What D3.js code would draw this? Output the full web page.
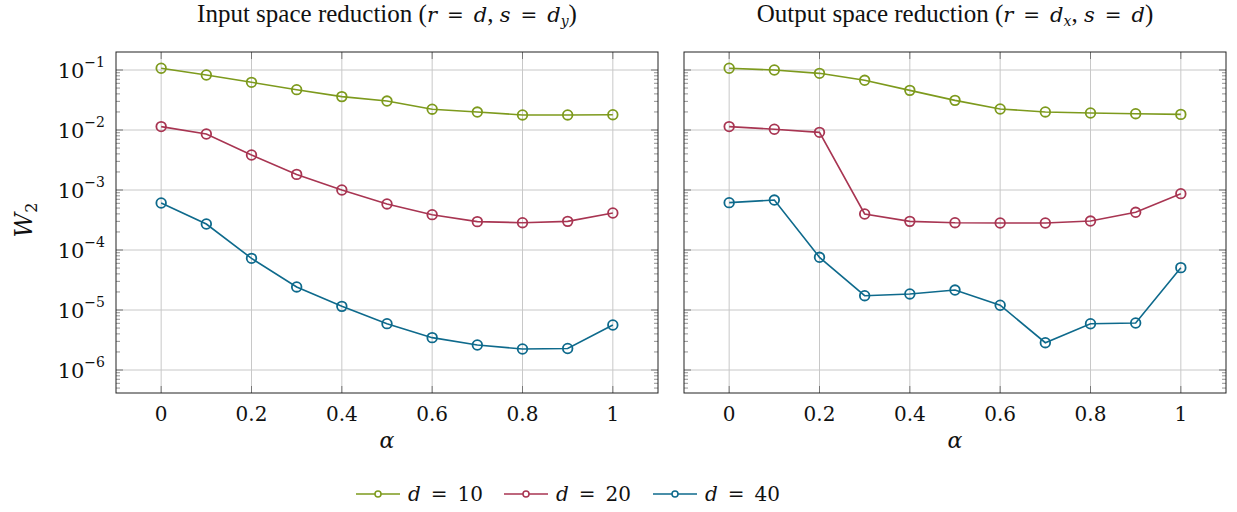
<!DOCTYPE html>
<html>
<head>
<meta charset="utf-8">
<script src="https://cdn.jsdelivr.net/npm/d3@7"></script>
<style>
  body { margin: 0; background: #fff; }
  text { fill: #111; }
</style>
</head>
<body>
<svg width="1237" height="512"></svg>
<script>
// alpha values shared by both panels
var alphas = [0, 0.1, 0.2, 0.3, 0.4, 0.5, 0.6, 0.7, 0.8, 0.9, 1];
var xTicks = [0, 0.2, 0.4, 0.6, 0.8, 1];
var yTickExps = [-1, -2, -3, -4, -5, -6];

// input space reduction
var inD10 = [0.107, 0.0826, 0.0623, 0.047, 0.036, 0.0304, 0.0222, 0.0199, 0.0178, 0.0178, 0.018];
var inD20 = [0.0114, 0.00858, 0.00383, 0.00182, 0.001, 0.000585, 0.000388, 0.000297, 0.000285, 0.0003, 0.000414];
var inD40 = [0.000607, 0.000271, 7.26e-5, 2.42e-5, 1.15e-5, 5.92e-6, 3.46e-6, 2.61e-6, 2.24e-6, 2.28e-6, 5.62e-6];

// output space reduction
var outD10 = [0.107, 0.1, 0.088, 0.0673, 0.0458, 0.0312, 0.0224, 0.02, 0.0192, 0.0187, 0.0182];
var outD20 = [0.0114, 0.0103, 0.00914, 0.000398, 0.0003, 0.000285, 0.000282, 0.000282, 0.000304, 0.000425, 0.000869];
var outD40 = [0.000615, 0.00068, 7.55e-5, 1.73e-5, 1.85e-5, 2.15e-5, 1.2e-5, 2.85e-6, 5.9e-6, 6.07e-6, 5.08e-5];

var seriesNames = ["10", "20", "40"];
var seriesColors = ["#7d9a1d", "#a83552", "#0e6a8c"];

var textFont = "'Liberation Serif', 'Times New Roman', serif";
var mathFont = "'DejaVu Serif', serif";

var svg = d3.select("svg");

var top_ = 52, bottom_ = 393, panelW = 542;
var panels = [
  { x0: 116, title: ["Input space reduction (", "r", " = ", "d", ", ", "s", " = ", "d", "y", ")"], data: [inD10, inD20, inD40], labels: true },
  { x0: 684, title: ["Output space reduction (", "r", " = ", "d", "x", ", ", "s", " = ", "d", ")"], data: [outD10, outD20, outD40], labels: false }
];

var y = d3.scaleLog()
    .domain([Math.pow(10, -6 - 23 / 60), Math.pow(10, -0.7)])
    .range([bottom_, top_]);

panels.forEach(function(p)
{
    var x = d3.scaleLinear().domain([-0.1, 1.1]).range([p.x0, p.x0 + panelW]);
    var g = svg.append("g");

    // grid
    g.selectAll("line.vg").data(xTicks).enter().append("line")
        .attr("x1", function(d) { return x(d); }).attr("x2", function(d) { return x(d); })
        .attr("y1", top_).attr("y2", bottom_)
        .style("stroke", "#c8c8c8").style("stroke-width", 1);
    g.selectAll("line.hg").data(yTickExps).enter().append("line")
        .attr("x1", p.x0).attr("x2", p.x0 + panelW)
        .attr("y1", function(e) { return y(Math.pow(10, e)); })
        .attr("y2", function(e) { return y(Math.pow(10, e)); })
        .style("stroke", "#c8c8c8").style("stroke-width", 1);

    // minor log ticks, both sides, inside
    var minor = [];
    for (var e = -7; e <= 0; e++) {
        for (var m = 2; m <= 9; m++) {
            var v = m * Math.pow(10, e);
            if (v > y.domain()[0] && v < y.domain()[1]) minor.push(v);
        }
    }
    [[p.x0, 1], [p.x0 + panelW, -1]].forEach(function(side)
    {
        g.selectAll(null).data(minor).enter().append("line")
            .attr("x1", side[0]).attr("x2", side[0] + side[1] * 4)
            .attr("y1", function(d) { return y(d); }).attr("y2", function(d) { return y(d); })
            .style("stroke", "#777").style("stroke-width", 0.8);
        g.selectAll(null).data(yTickExps).enter().append("line")
            .attr("x1", side[0]).attr("x2", side[0] + side[1] * 7)
            .attr("y1", function(e) { return y(Math.pow(10, e)); })
            .attr("y2", function(e) { return y(Math.pow(10, e)); })
            .style("stroke", "#777").style("stroke-width", 1);
    });
    // x major ticks top and bottom
    [[bottom_, -1], [top_, 1]].forEach(function(side)
    {
        g.selectAll(null).data(xTicks).enter().append("line")
            .attr("x1", function(d) { return x(d); }).attr("x2", function(d) { return x(d); })
            .attr("y1", side[0]).attr("y2", side[0] + side[1] * 7)
            .style("stroke", "#777").style("stroke-width", 1);
    });

    // frame
    g.append("rect")
        .attr("x", p.x0).attr("y", top_).attr("width", panelW).attr("height", bottom_ - top_)
        .style("fill", "none").style("stroke", "#222").style("stroke-width", 1);

    // x tick labels
    g.selectAll("text.xt").data(xTicks).enter().append("text")
        .attr("x", function(d) { return x(d); }).attr("y", 421)
        .attr("text-anchor", "middle").attr("font-size", 20).attr("font-family", mathFont)
        .text(function(d) { return d; });

    // alpha label
    g.append("text").attr("x", x(0.5)).attr("y", 448)
        .attr("text-anchor", "middle").attr("font-size", 22).attr("font-family", mathFont)
        .style("font-style", "italic")
        .text("\u03b1");

    // title
    var t = g.append("text").attr("x", p.x0 + panelW / 2).attr("y", 22)
        .attr("text-anchor", "middle").attr("font-size", 25).attr("font-family", textFont);
    p.title.forEach(function(s, i)
    {
        var ts = t.append("tspan").text(s === " = " ? "\u2002=\u2002" : s);
        if (s === "r" || s === "s" || s === "d") ts.style("font-style", "italic").attr("font-family", mathFont).attr("font-size", 21);
        if (s === " = ") ts.attr("font-family", mathFont).attr("font-size", 20);
        if (s === "x" || s === "y") {
            ts.style("font-style", "italic").attr("font-family", mathFont).attr("font-size", 14).attr("dy", 4);
        }
        var prev = p.title[i - 1];
        if (prev === "x" || prev === "y") ts.attr("dy", -4);
    });

    // y tick labels
    if (p.labels) {
        yTickExps.forEach(function(e)
        {
            var yt = g.append("text").attr("x", 105).attr("y", y(Math.pow(10, e)) + 8)
                .attr("text-anchor", "end").attr("font-size", 21).attr("font-family", mathFont);
            yt.append("tspan").text("10");
            yt.append("tspan").text("\u2212" + (-e)).attr("font-size", 14).attr("dy", -11);
        });
        var yl = g.append("text").attr("transform", "translate(32," + y(Math.pow(10, -3.5)) + ") rotate(-90)")
            .attr("text-anchor", "middle").attr("font-size", 24).attr("font-family", mathFont);
        yl.append("tspan").text("W").style("font-style", "italic");
        yl.append("tspan").text("2").attr("font-size", 16).attr("dy", 5);
    }

    // series
    var line = d3.line()
        .x(function(d, i) { return x(alphas[i]); })
        .y(function(d) { return y(d); });
    p.data.forEach(function(vals, si)
    {
        g.append("path").datum(vals).attr("d", line)
            .style("fill", "none").style("stroke", seriesColors[si]).style("stroke-width", 1.6);
        g.selectAll(null).data(vals).enter().append("circle")
            .attr("cx", function(d, i) { return x(alphas[i]); })
            .attr("cy", function(d) { return y(d); })
            .attr("r", 4.8)
            .style("fill", "none").style("stroke", seriesColors[si]).style("stroke-width", 1.8);
    });
});

// legend
var legX = [356, 504, 653];
seriesNames.forEach(function(n, i)
{
    var lg = svg.append("g").attr("transform", "translate(" + legX[i] + ",494)");
    lg.append("line").attr("x1", 0).attr("x2", 44).attr("y1", 0).attr("y2", 0)
        .style("stroke", seriesColors[i]).style("stroke-width", 1.6);
    lg.append("circle").attr("cx", 22).attr("cy", 0).attr("r", 3)
        .style("fill", "#fff").style("stroke", seriesColors[i]).style("stroke-width", 1.5);
    var lt = lg.append("text").attr("x", 52).attr("y", 7).attr("font-size", 20).attr("font-family", mathFont);
    lt.append("tspan").text("d").style("font-style", "italic");
    lt.append("tspan").text("\u2002=\u2002" + n);
});
</script>
</body>
</html>
